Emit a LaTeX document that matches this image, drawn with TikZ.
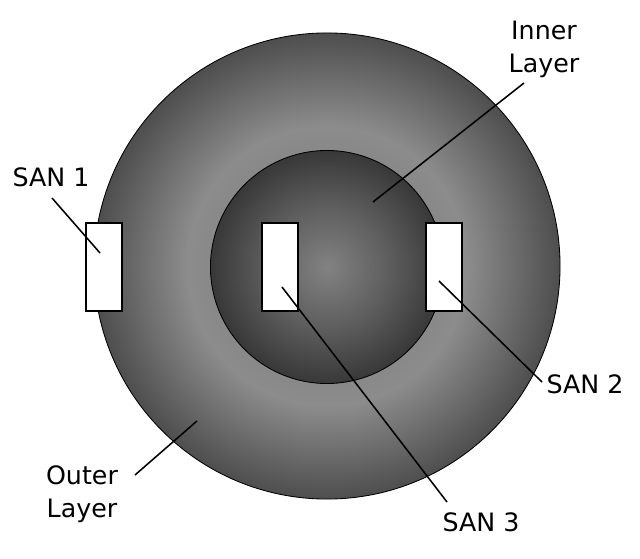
\documentclass[tikz,border=0pt]{standalone}
\usepackage{fontspec}
\setmainfont{DejaVu Sans}

\definecolor{ringdark}{HTML}{4E4E4E}
\definecolor{ringlight}{HTML}{8C8C8C}
\definecolor{ringinner}{HTML}{888888}
\definecolor{corelight}{HTML}{828282}
\definecolor{coremid}{HTML}{5E5E5E}
\definecolor{coredark}{HTML}{383838}

\pgfdeclareradialshading{outerlayer}{\pgfpoint{0bp}{0bp}}{color(0bp)=(ringinner); color(12.4bp)=(ringinner); color(15bp)=(ringlight); color(25bp)=(ringdark); color(50bp)=(ringdark)}
\pgfdeclareradialshading{innerlayer}{\pgfpoint{0bp}{0bp}}{color(0bp)=(corelight); color(13bp)=(coremid); color(25bp)=(coredark); color(50bp)=(coredark)}

\tikzset{
  sanbox/.style={draw, fill=white, line width=0.8pt, minimum width=0.9cm, minimum height=2.2cm, inner sep=0pt},
  lbl/.style={font=\fontsize{18}{23.5}\selectfont, inner sep=0pt, align=center},
  leader/.style={line width=1.1pt}
}

\begin{document}
\begin{tikzpicture}[x=0.025cm, y=-0.025cm]
\useasboundingbox (0,0) rectangle (640,559);

% the two layers
\shade[shading=outerlayer, draw=black, line width=0.6pt] (327,266) circle (5.825cm);
\shade[shading=innerlayer, draw=black, line width=0.6pt] (327,267) circle (2.9125cm);

% SAN blocks
\node[sanbox] (san1) at (104,267) {};
\node[sanbox] (san3) at (280,267) {};
\node[sanbox] (san2) at (444,267) {};

% labels
\node[lbl, anchor=base] (san1lbl) at (51,186) {SAN 1};
\node[lbl, anchor=base] (san2lbl) at (585,393) {SAN 2};
\node[lbl, anchor=base] (san3lbl) at (481,531) {SAN 3};
\node[lbl] (innerlbl) at (544,49) {Inner\\Layer};
\node[lbl] (outerlbl) at (82,494) {Outer\\Layer};

% leader lines
\coordinate (san1a) at (52,198);
\coordinate (san1tip) at (100,253);
\coordinate (innera) at (524,83);
\coordinate (innertip) at (373,202);
\coordinate (san2a) at (542,382);
\coordinate (san2tip) at (439,281);
\coordinate (san3a) at (447,502);
\coordinate (san3tip) at (282,287);
\coordinate (outera) at (135,475);
\coordinate (outertip) at (197,421);

\draw[leader] (san1a) -- (san1tip);
\draw[leader] (innera) -- (innertip);
\draw[leader] (san2a) -- (san2tip);
\draw[leader] (san3a) -- (san3tip);
\draw[leader] (outera) -- (outertip);
\end{tikzpicture}
\end{document}
